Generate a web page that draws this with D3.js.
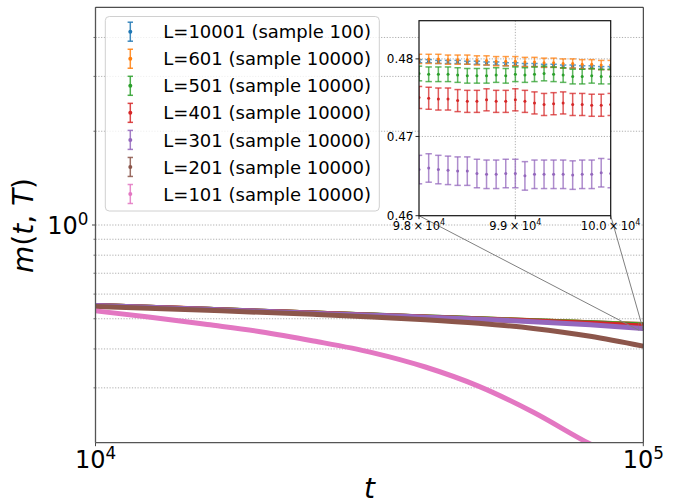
<!DOCTYPE html>
<html><head><meta charset="utf-8">
<script src="https://cdn.jsdelivr.net/npm/d3@7"></script>
<style>body{margin:0;background:#fff} svg{display:block} text{font-family:"DejaVu Sans",sans-serif;fill:#000}</style>
</head><body><svg id="c" width="681" height="501"></svg>
<script>
// ---------- data ----------
const seriesLabels = ["L=10001 (sample 100)","L=601 (sample 10000)","L=501 (sample 10000)","L=401 (sample 10000)","L=301 (sample 10000)","L=201 (sample 10000)","L=101 (sample 10000)"];
const seriesColors = ["#1f77b4","#ff7f0e","#2ca02c","#d62728","#9467bd","#8c564b","#e377c2"];

const tMain = [10000,12500,16000,20000,25000,32000,40000,50000,63000,80000,100000];
const mL10001 = [0.552,0.5445,0.5363,0.5289,0.5216,0.5138,0.5068,0.4999,0.4929,0.4857,0.4790];
const mL601   = [0.552,0.5446,0.5364,0.5290,0.5217,0.5139,0.5069,0.5000,0.4930,0.4859,0.4795];
const mL501   = [0.552,0.5445,0.5363,0.5289,0.5215,0.5137,0.5066,0.4996,0.4925,0.4851,0.4777];
const mL401   = [0.552,0.5445,0.5363,0.5288,0.5214,0.5135,0.5063,0.4991,0.4915,0.4835,0.4741];
const mL301   = [0.552,0.5444,0.5361,0.5286,0.5211,0.5130,0.5058,0.4982,0.4895,0.4780,0.4653];
const mL201   = [0.547,0.540,0.532,0.5245,0.5165,0.507,0.4965,0.4835,0.4655,0.4395,0.4085];
const mL101   = [0.530,0.5067,0.479,0.4543,0.4243,0.3894,0.350,0.3039,0.2505,0.198,0.165];

const tInset = [98000,98100,98200,98300,98400,98500,98600,98700,98800,98900,99000,99100,99200,99300,99400,99500,99600,99700,99800,99900,100000];
const iL10001 = [0.4797,0.4797,0.4796,0.4796,0.4796,0.4795,0.4795,0.4794,0.4794,0.4793,0.4793,0.4792,0.4792,0.4791,0.4791,0.4790,0.4790,0.4789,0.4789,0.4788,0.4788];
const iL601   = [0.4800,0.4800,0.4800,0.4799,0.4799,0.4799,0.4798,0.4798,0.4797,0.4797,0.4797,0.4796,0.4796,0.4795,0.4795,0.4794,0.4794,0.4793,0.4793,0.4792,0.4792];
const iL501   = [0.4781,0.4780,0.4780,0.4780,0.4779,0.4778,0.4778,0.4778,0.4779,0.4778,0.4780,0.4779,0.4780,0.4781,0.4780,0.4779,0.4777,0.4777,0.4778,0.4777,0.4777];
const iL401   = [0.4750,0.4749,0.4748,0.4748,0.4746,0.4745,0.4745,0.4747,0.4745,0.4745,0.4747,0.4745,0.4743,0.4741,0.4742,0.4743,0.4741,0.4741,0.4740,0.4740,0.4741];
const iL301   = [0.4658,0.4660,0.4658,0.4657,0.4656,0.4656,0.4653,0.4652,0.4652,0.4653,0.4653,0.4650,0.4652,0.4652,0.4652,0.4652,0.4651,0.4652,0.4652,0.4654,0.4653];
const insetErr = [0.0002,0.0006,0.00095,0.00142,0.0018];

const yMinorTicks = [0.3,0.4,0.5,0.6,0.7,0.8,0.9,2,3,4];
const yMajorTicks = [1];
const xMajorTicks = [1e4,1e5];
const insetYTicks = [0.46,0.47,0.48];
const insetXTicks = [98000,99000,100000];
const insetXTickLabels = ["9.8","9.9","10.0"];

// ---------- layout ----------
const svg = d3.select("#c");
const P = {x0:95.5, x1:643.3, y0:7.3, y1:442.7};
const I = {x0:419, x1:610.7, y0:20.7, y1:215.7};
const x = d3.scaleLog().domain([1e4,1e5]).range([P.x0,P.x1]);
const y = d3.scaleLog().domain([0.2,5]).range([P.y1,P.y0]);
const ix = d3.scaleLog().domain([98000,100000]).range([I.x0,I.x1]);
const iy = d3.scaleLog().domain([0.46,0.485]).range([I.y1,I.y0]);

const defs = svg.append("defs");
defs.append("clipPath").attr("id","cp").append("rect").attr("x",P.x0).attr("y",P.y0).attr("width",P.x1-P.x0).attr("height",P.y1-P.y0);
defs.append("clipPath").attr("id","ci").append("rect").attr("x",I.x0).attr("y",I.y0).attr("width",I.x1-I.x0).attr("height",I.y1-I.y0);

const gridStyle = s => s.attr("stroke","#9a9a9a").attr("stroke-width",0.8).attr("stroke-dasharray","1.2,1.6");

// main grid
svg.append("g").selectAll("line").data(yMinorTicks.concat(yMajorTicks)).join("line")
  .attr("x1",P.x0).attr("x2",P.x1).attr("y1",d=>y(d)).attr("y2",d=>y(d)).call(gridStyle);

// main data
const mainSeries = [mL10001,mL601,mL501,mL401,mL301,mL201,mL101];
const line = d3.line().x(d=>x(d[0])).y(d=>y(d[1])).curve(d3.curveMonotoneX);
const gm = svg.append("g").attr("clip-path","url(#cp)");
mainSeries.forEach((vals,i)=>{
  gm.append("path").attr("d",line(tMain.map((t,k)=>[t,vals[k]])))
    .attr("fill","none").attr("stroke",seriesColors[i]).attr("stroke-width",5);
});

// indicator + connectors
svg.append("rect").attr("x",x(98000)).attr("y",y(0.485)).attr("width",x(1e5)-x(98000)).attr("height",y(0.46)-y(0.485))
  .attr("fill","none").attr("stroke","#808080").attr("stroke-width",0.6).attr("opacity",0.6);
svg.append("line").attr("x1",I.x0).attr("y1",I.y1).attr("x2",x(98000)).attr("y2",y(0.46)).attr("stroke","#808080").attr("stroke-width",1);
svg.append("line").attr("x1",I.x1).attr("y1",I.y1).attr("x2",x(1e5)).attr("y2",y(0.46)).attr("stroke","#808080").attr("stroke-width",1);

// main ticks
svg.append("g").selectAll("line").data(yMinorTicks).join("line")
  .attr("x1",P.x0-2).attr("x2",P.x0).attr("y1",d=>y(d)).attr("y2",d=>y(d)).attr("stroke","#333").attr("stroke-width",0.7);
svg.append("g").selectAll("line").data(yMajorTicks).join("line")
  .attr("x1",P.x0-3.5).attr("x2",P.x0).attr("y1",d=>y(d)).attr("y2",d=>y(d)).attr("stroke","#333").attr("stroke-width",0.9);
svg.append("g").selectAll("line").data(xMajorTicks).join("line")
  .attr("x1",d=>x(d)).attr("x2",d=>x(d)).attr("y1",P.y1).attr("y2",P.y1+3.5).attr("stroke","#333").attr("stroke-width",0.9);

// main tick labels
yMajorTicks.forEach(v=>{
  const t = svg.append("text").attr("x",88.5).attr("y",y(v)+8.7).attr("text-anchor","end").attr("font-size",24);
  t.append("tspan").text("10");
  t.append("tspan").attr("dy",-9).attr("font-size",16.8).text(String(Math.round(Math.log10(v))));
});
xMajorTicks.forEach(v=>{
  const t = svg.append("text").attr("x",x(v)).attr("y",468.3).attr("text-anchor","middle").attr("font-size",24);
  t.append("tspan").text("10");
  t.append("tspan").attr("dy",-9).attr("font-size",16.8).text(String(Math.round(Math.log10(v))));
});

// spines
svg.append("line").attr("x1",P.x0).attr("x2",P.x0).attr("y1",P.y0).attr("y2",P.y1).attr("stroke","#555").attr("stroke-width",1.3);
svg.append("line").attr("x1",P.x0).attr("x2",P.x1).attr("y1",P.y1).attr("y2",P.y1).attr("stroke","#555").attr("stroke-width",1.3);
svg.append("line").attr("x1",P.x0).attr("x2",P.x1).attr("y1",P.y0).attr("y2",P.y0).attr("stroke","#222").attr("stroke-width",1);
svg.append("line").attr("x1",P.x1).attr("x2",P.x1).attr("y1",P.y0).attr("y2",P.y1).attr("stroke","#222").attr("stroke-width",1);

// axis labels
svg.append("text").attr("x",(P.x0+P.x1)/2).attr("y",497.5).attr("text-anchor","middle").attr("font-size",28).attr("font-style","italic").text("t");
const yl = svg.append("text").attr("transform","translate(33,225.5) rotate(-90)").attr("text-anchor","middle").attr("font-size",28);
yl.append("tspan").attr("font-style","italic").text("m");
yl.append("tspan").text("(");
yl.append("tspan").attr("font-style","italic").text("t");
yl.append("tspan").text(", ");
yl.append("tspan").attr("font-style","italic").text("T");
yl.append("tspan").text(")");

// legend
const L = {x:105.3, y:16.5, w:274, h:194.5, row:27.05, cy0:31.7};
svg.append("rect").attr("x",L.x).attr("y",L.y).attr("width",L.w).attr("height",L.h).attr("rx",4)
  .attr("fill","#fff").attr("fill-opacity",0.8).attr("stroke","#d0d0d0").attr("stroke-width",1);
seriesLabels.forEach((lab,i)=>{
  const cy = L.cy0 + i*L.row, cx = 130.3, c = seriesColors[i];
  const g = svg.append("g");
  g.append("line").attr("x1",cx).attr("x2",cx).attr("y1",cy-9.5).attr("y2",cy+9.5).attr("stroke",c).attr("stroke-width",1.5).attr("opacity",0.85);
  g.append("line").attr("x1",cx-2.7).attr("x2",cx+2.7).attr("y1",cy-9.5).attr("y2",cy-9.5).attr("stroke",c).attr("stroke-width",1.5).attr("opacity",0.85);
  g.append("line").attr("x1",cx-2.7).attr("x2",cx+2.7).attr("y1",cy+9.5).attr("y2",cy+9.5).attr("stroke",c).attr("stroke-width",1.5).attr("opacity",0.85);
  g.append("circle").attr("cx",cx).attr("cy",cy).attr("r",2).attr("fill",c);
  svg.append("text").attr("x",163.3).attr("y",cy+6.6).attr("font-size",18).text(lab);
});

// ---------- inset ----------
svg.append("rect").attr("x",I.x0).attr("y",I.y0).attr("width",I.x1-I.x0).attr("height",I.y1-I.y0).attr("fill","#fff");
svg.append("g").selectAll("line").data([0.47,0.48]).join("line")
  .attr("x1",I.x0).attr("x2",I.x1).attr("y1",d=>iy(d)).attr("y2",d=>iy(d)).call(gridStyle);
svg.append("g").selectAll("line").data([99000]).join("line")
  .attr("x1",d=>ix(d)).attr("x2",d=>ix(d)).attr("y1",I.y0).attr("y2",I.y1).call(gridStyle);

const insetSeries = [iL10001,iL601,iL501,iL401,iL301];
const gi = svg.append("g").attr("clip-path","url(#ci)");
insetSeries.forEach((vals,i)=>{
  const c = seriesColors[i], e = insetErr[i];
  const g = gi.append("g");
  tInset.forEach((t,k)=>{
    const px = ix(t), ya = iy(vals[k]-e), yb = iy(vals[k]+e);
    g.append("line").attr("x1",px).attr("x2",px).attr("y1",ya).attr("y2",yb).attr("stroke",c).attr("stroke-width",1.5).attr("opacity",0.75);
    g.append("line").attr("x1",px-3.2).attr("x2",px+3.2).attr("y1",ya).attr("y2",ya).attr("stroke",c).attr("stroke-width",1.5).attr("opacity",0.75);
    g.append("line").attr("x1",px-3.2).attr("x2",px+3.2).attr("y1",yb).attr("y2",yb).attr("stroke",c).attr("stroke-width",1.5).attr("opacity",0.75);
    g.append("circle").attr("cx",px).attr("cy",iy(vals[k])).attr("r",1.5).attr("fill",c);
  });
});
svg.append("rect").attr("x",I.x0).attr("y",I.y0).attr("width",I.x1-I.x0).attr("height",I.y1-I.y0)
  .attr("fill","none").attr("stroke","#111").attr("stroke-width",1.2);
// inset ticks
svg.append("g").selectAll("line").data(insetYTicks).join("line")
  .attr("x1",I.x0-3.5).attr("x2",I.x0).attr("y1",d=>iy(d)).attr("y2",d=>iy(d)).attr("stroke","#111").attr("stroke-width",0.9);
svg.append("g").selectAll("text").data(insetYTicks).join("text")
  .attr("x",413.5).attr("y",d=>iy(d)+4.3).attr("text-anchor","end").attr("font-size",12).text(d=>d.toFixed(2));
svg.append("g").selectAll("line").data(insetXTicks).join("line")
  .attr("x1",d=>ix(d)).attr("x2",d=>ix(d)).attr("y1",I.y1).attr("y2",I.y1+3.5).attr("stroke","#111").attr("stroke-width",0.9);
insetXTicks.forEach((v,i)=>{
  const t = svg.append("text").attr("x",ix(v)).attr("y",229.5).attr("text-anchor","middle").attr("font-size",11.5);
  t.append("tspan").text(insetXTickLabels[i]+"\u2009\u00d7\u200910");
  t.append("tspan").attr("dy",-4.5).attr("font-size",8.2).text("4");
});
</script></body></html>
